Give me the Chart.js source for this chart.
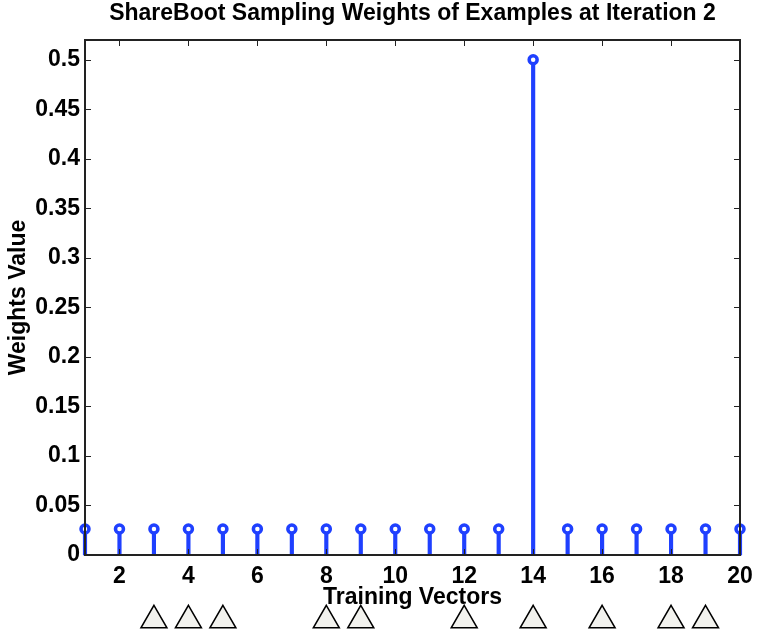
<!DOCTYPE html>
<html>
<head>
<meta charset="utf-8">
<script src="https://cdn.jsdelivr.net/npm/chart.js@4.4.1/dist/chart.umd.min.js"></script>
<style>
  html, body { margin: 0; padding: 0; background: #fff; }
  #wrap { width: 757px; height: 633px; position: relative; }
</style>
</head>
<body>
<div id="wrap"><canvas id="stemChart"></canvas></div>
<script>
// training vector index and its sampling weight
const vectors = [1, 2, 3, 4, 5, 6, 7, 8, 9, 10, 11, 12, 13, 14, 15, 16, 17, 18, 19, 20];
const weights = [0.0263, 0.0263, 0.0263, 0.0263, 0.0263, 0.0263, 0.0263, 0.0263, 0.0263, 0.0263,
                 0.0263, 0.0263, 0.0263, 0.5, 0.0263, 0.0263, 0.0263, 0.0263, 0.0263, 0.0263];
// vectors flagged with a triangle under the axis
const flagged = [3, 4, 5, 8, 9, 12, 14, 16, 18, 19];
const flagLevel = -0.066;

const xTicks = [2, 4, 6, 8, 10, 12, 14, 16, 18, 20];
const yTicks = [0, 0.05, 0.1, 0.15, 0.2, 0.25, 0.3, 0.35, 0.4, 0.45, 0.5];
const yTickLabels = ['0', '0.05', '0.1', '0.15', '0.2', '0.25', '0.3', '0.35', '0.4', '0.45', '0.5'];

const BLUE = '#1f40ff';
const FONT = "'Liberation Sans', Arial, Helvetica, sans-serif";

// matlab style box with inward ticks
const boxPlugin = {
  id: 'box',
  afterDraw(chart) {
    const { ctx, chartArea: a, scales: { x, y } } = chart;
    const len = 6;
    ctx.save();
    ctx.strokeStyle = '#222';
    ctx.lineWidth = 1;
    ctx.beginPath();
    xTicks.forEach(v => {
      const px = Math.round(x.getPixelForValue(v)) + 0.5;
      ctx.moveTo(px, a.bottom); ctx.lineTo(px, a.bottom - len);
      ctx.moveTo(px, a.top); ctx.lineTo(px, a.top + len);
    });
    yTicks.forEach(v => {
      const py = Math.round(y.getPixelForValue(v)) + 0.5;
      ctx.moveTo(a.left, py); ctx.lineTo(a.left + len, py);
      ctx.moveTo(a.right, py); ctx.lineTo(a.right - len, py);
    });
    ctx.stroke();
    ctx.lineWidth = 2;
    ctx.strokeRect(a.left, a.top, a.right - a.left, a.bottom - a.top);

    // triangles below the axis (outside the chart area, so drawn here)
    ctx.fillStyle = '#f2f2ee';
    ctx.strokeStyle = '#000';
    ctx.lineWidth = 1.5;
    const py = y.getPixelForValue(flagLevel);
    flagged.forEach(v => {
      Chart.helpers.drawPoint(ctx, { pointStyle: 'triangle', radius: 15, rotation: 0, borderWidth: 1.5 },
        x.getPixelForValue(v), py);
    });
    ctx.restore();
  }
};

new Chart(document.getElementById('stemChart'), {
  type: 'bar',
  data: {
    datasets: [
      {
        type: 'scatter',
        data: vectors.map((v, i) => ({ x: v, y: weights[i] })),
        pointStyle: 'circle',
        pointRadius: 4,
        pointBorderWidth: 3.5,
        pointBorderColor: BLUE,
        pointBackgroundColor: '#fff',
        clip: false,
        order: 1
      },
      {
        type: 'bar',
        data: vectors.map((v, i) => ({ x: v, y: weights[i] })),
        backgroundColor: BLUE,
        borderWidth: 0,
        barThickness: 3.5,
        clip: false,
        order: 2
      }
    ]
  },
  options: {
    responsive: true,
    maintainAspectRatio: false,
    animation: false,
    events: [],
    layout: { padding: { top: 0, right: 17, bottom: 0, left: 0 } },
    plugins: {
      legend: { display: false },
      tooltip: { enabled: false },
      title: {
        display: true,
        text: 'ShareBoot Sampling Weights of Examples at Iteration 2',
        color: '#000',
        font: { family: FONT, size: 23, weight: 'bold', lineHeight: 1.2 },
        padding: { top: 0, bottom: 12.4 },
        fullSize: false
      }
    },
    scales: {
      x: {
        type: 'linear',
        min: 1,
        max: 20,
        offset: false,
        grid: { display: false, drawTicks: false, offset: false },
        border: { display: false },
        afterBuildTicks: s => { s.ticks = xTicks.map(v => ({ value: v })); },
        afterFit: s => { s.height = 78; s.paddingLeft = 0; s.paddingRight = 0; },
        ticks: {
          color: '#000',
          padding: 8,
          maxRotation: 0,
          autoSkip: false,
          font: { family: FONT, size: 23, weight: 'bold', lineHeight: 1.2 }
        },
        title: {
          display: true,
          text: 'Training Vectors',
          color: '#000',
          font: { family: FONT, size: 23, weight: 'bold', lineHeight: 1.2 },
          padding: { top: 0, bottom: 22 }
        }
      },
      y: {
        type: 'linear',
        min: 0,
        max: 0.52,
        grid: { display: false, drawTicks: false },
        border: { display: false },
        afterBuildTicks: s => { s.ticks = yTicks.map(v => ({ value: v })); },
        afterFit: s => { s.width = 85; s.paddingTop = 0; s.paddingBottom = 0; },
        ticks: {
          color: '#000',
          padding: 5,
          autoSkip: false,
          callback: (v, i) => yTickLabels[i],
          font: { family: FONT, size: 23, weight: 'bold', lineHeight: 1.2 }
        },
        title: {
          display: true,
          text: 'Weights Value',
          color: '#000',
          font: { family: FONT, size: 23, weight: 'bold', lineHeight: 1.2 },
          padding: { top: 5, bottom: 0 }
        }
      }
    }
  },
  plugins: [boxPlugin]
});
</script>
</body>
</html>
